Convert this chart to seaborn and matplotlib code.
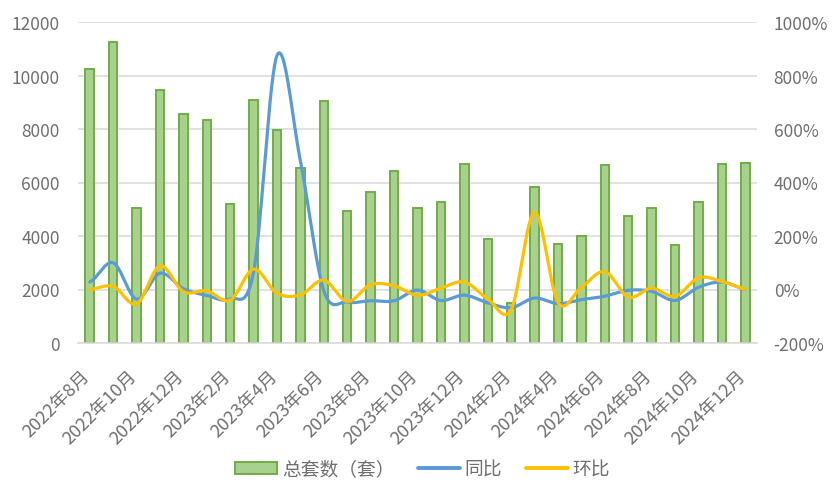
import numpy as np
import pandas as pd
import matplotlib
matplotlib.use("Agg")
import matplotlib.pyplot as plt
import matplotlib.transforms as mtrans
from matplotlib.patches import Patch
from matplotlib.lines import Line2D
from matplotlib.ticker import FixedLocator, FuncFormatter
import seaborn as sns

# ---------------- data ----------------
months = ["2022年8月", "2022年9月", "2022年10月", "2022年11月", "2022年12月",
          "2023年1月", "2023年2月", "2023年3月", "2023年4月", "2023年5月",
          "2023年6月", "2023年7月", "2023年8月", "2023年9月", "2023年10月",
          "2023年11月", "2023年12月", "2024年1月", "2024年2月", "2024年3月",
          "2024年4月", "2024年5月", "2024年6月", "2024年7月", "2024年8月",
          "2024年9月", "2024年10月", "2024年11月", "2024年12月"]
total_sets = [10250, 11250, 5050, 9470, 8570, 8350, 5200, 9100, 7970, 6550,
              9050, 4920, 5650, 6440, 5050, 5280, 6700, 3900, 1480, 5840,
              3710, 3990, 6670, 4760, 5050, 3670, 5280, 6700, 6740]
yoy = [0.28, 1.00, -0.36, 0.61, 0.03, -0.22, -0.35, 0.66, 8.75, 4.80,
       -0.05, -0.47, -0.42, -0.42, -0.02, -0.41, -0.21, -0.50, -0.68, -0.32,
       -0.53, -0.38, -0.25, -0.03, -0.07, -0.41, 0.08, 0.28, 0.01]
mom = [0.00, 0.12, -0.54, 0.88, -0.08, -0.05, -0.40, 0.76, -0.14, -0.20,
       0.35, -0.45, 0.18, 0.14, -0.22, 0.05, 0.28, -0.35, -0.75, 2.88,
       -0.48, 0.08, 0.67, -0.28, 0.05, -0.26, 0.44, 0.30, 0.02]
legend_labels = ["总套数（套）", "同比", "环比"]

# ---------------- style ----------------
sns.set_style("white")
plt.rcParams["font.family"] = ["Noto Sans CJK SC", "DejaVu Sans"]
plt.rcParams["font.weight"] = "light"
TXT = "#6f6f6f"
GRID = "#d9d9d9"
BAR_FILL = "#a9d18e"
BAR_EDGE = "#70ad47"
BLUE = "#5b9bd5"
YELLOW = "#ffc000"


def excel_smooth(vals, n=30):
    """Excel-like smoothed line (cubic Hermite / Catmull-Rom through the points)."""
    y = np.asarray(vals, dtype=float)
    N = len(y)
    m = np.zeros(N)
    m[1:-1] = (y[2:] - y[:-2]) / 2.0
    m[0] = (y[1] - y[0]) / 2.0
    m[-1] = (y[-1] - y[-2]) / 2.0
    xs, ys = [], []
    for i in range(N - 1):
        t = np.linspace(0, 1, n, endpoint=False)
        h00 = 2 * t**3 - 3 * t**2 + 1
        h10 = t**3 - 2 * t**2 + t
        h01 = -2 * t**3 + 3 * t**2
        h11 = t**3 - t**2
        ys.append(h00 * y[i] + h10 * m[i] + h01 * y[i + 1] + h11 * m[i + 1])
        xs.append(i + t)
    xs.append(np.array([N - 1.0]))
    ys.append(np.array([y[-1]]))
    return np.concatenate(xs), np.concatenate(ys)


fig = plt.figure(figsize=(8.37, 5.02), dpi=100)
ax = fig.add_axes([78 / 837, 1 - 344 / 502, (757 - 78) / 837, (344 - 23) / 502])

df = pd.DataFrame({"month": months, "total": total_sets})
sns.barplot(data=df, x="month", y="total", ax=ax, color=BAR_FILL,
            edgecolor=BAR_EDGE, linewidth=1.4, width=0.36, saturation=1)
for p in ax.patches:
    p.set_facecolor(BAR_FILL)
    p.set_edgecolor(BAR_EDGE)

ax.set_xlim(-0.5, len(months) - 0.5)
ax.set_ylim(0, 12000)
ax.set_yticks(np.arange(0, 12001, 2000))
ax.set_axisbelow(True)
ax.yaxis.grid(True, color=GRID, linewidth=1.1)
ax.set_xlabel("")
ax.set_ylabel("")
for s in ["top", "right", "left"]:
    ax.spines[s].set_visible(False)
ax.spines["bottom"].set_color(GRID)
ax.spines["bottom"].set_linewidth(1.1)

# x ticks: labels every 2 months, tick marks at category boundaries
label_pos = np.arange(0, len(months), 2)
ax.xaxis.set_major_locator(FixedLocator(label_pos))
ax.set_xticklabels([months[i] for i in label_pos], rotation=45, ha="right",
                   rotation_mode="anchor", fontsize=13, color=TXT)
ax.xaxis.set_minor_locator(FixedLocator(np.arange(-0.5, len(months) - 1, 2)))
ax.tick_params(axis="x", which="major", length=0, pad=8)
ax.tick_params(axis="x", which="minor", length=5, width=1.1, color=GRID)
ax.tick_params(axis="y", length=0, pad=13, labelsize=12.5, labelcolor=TXT)
shift = mtrans.ScaledTranslation(-0.09, -0.12, fig.dpi_scale_trans)
for lab in ax.get_xticklabels():
    lab.set_transform(lab.get_transform() + shift)

# secondary axis with smoothed lines
ax2 = ax.twinx()
xb, yb = excel_smooth(yoy)
xy, yy = excel_smooth(mom)
sns.lineplot(x=xb, y=yb, ax=ax2, color=BLUE, linewidth=2.3, sort=False,
             estimator=None)
sns.lineplot(x=xy, y=yy, ax=ax2, color=YELLOW, linewidth=2.3, sort=False,
             estimator=None)
ax2.set_ylim(-2, 10)
ax2.set_yticks(np.arange(-2, 10.01, 2))
ax2.yaxis.set_major_formatter(FuncFormatter(lambda v, p: f"{v * 100:.0f}%"))
ax2.tick_params(axis="y", length=0, pad=12, labelsize=12.5, labelcolor=TXT)
ax2.set_xlim(-0.5, len(months) - 0.5)
ax2.set_ylabel("")
for s in ax2.spines.values():
    s.set_visible(False)

# legend
handles = [Patch(facecolor=BAR_FILL, edgecolor=BAR_EDGE, linewidth=1.4),
           Line2D([0], [0], color=BLUE, linewidth=2.8),
           Line2D([0], [0], color=YELLOW, linewidth=2.8)]
leg = fig.legend(handles, legend_labels, loc="center", ncol=3,
                 bbox_to_anchor=(0.505, 1 - 470 / 502), frameon=False,
                 fontsize=13.5, handlelength=2.25, handleheight=0.65,
                 columnspacing=1.25, handletextpad=0.25)
for t in leg.get_texts():
    t.set_color(TXT)

fig.savefig("out.png", dpi=100)
